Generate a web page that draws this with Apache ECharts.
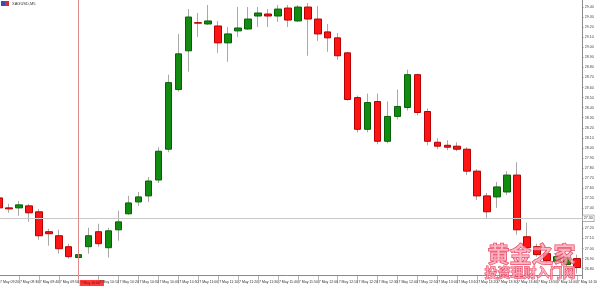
<!DOCTYPE html>
<html><head><meta charset="utf-8">
<script src="https://cdn.jsdelivr.net/npm/echarts@6/dist/echarts.min.js"></script>
<style>html,body{margin:0;padding:0;background:#fff;overflow:hidden;width:600px;height:286px;position:relative}#c{position:absolute;left:-6px;top:-3px;width:606px;height:289px}</style>
</head><body><div id="c"></div>
<script>
const categories = ["7 May 09:20","7 May 09:25","7 May 09:30","7 May 09:35","7 May 09:40","7 May 09:45","7 May 09:50","7 May 09:55","7 May 10:00","7 May 10:05","7 May 10:10","7 May 10:15","7 May 10:20","7 May 10:25","7 May 10:30","7 May 10:35","7 May 10:40","7 May 10:45","7 May 10:50","7 May 10:55","7 May 11:00","7 May 11:05","7 May 11:10","7 May 11:15","7 May 11:20","7 May 11:25","7 May 11:30","7 May 11:35","7 May 11:40","7 May 11:45","7 May 11:50","7 May 11:55","7 May 12:00","7 May 12:05","7 May 12:10","7 May 12:15","7 May 12:20","7 May 12:25","7 May 12:30","7 May 12:35","7 May 12:40","7 May 12:45","7 May 12:50","7 May 12:55","7 May 13:00","7 May 13:05","7 May 13:10","7 May 13:15","7 May 13:20","7 May 13:25","7 May 13:30","7 May 13:35","7 May 13:40","7 May 13:45","7 May 13:50","7 May 13:55","7 May 14:00","7 May 14:05","7 May 14:10"];
const opens = [27.503,27.404,27.404,27.424,27.365,27.167,27.127,27.018,26.910,27.018,27.167,27.008,27.186,27.345,27.463,27.523,27.681,27.987,28.580,28.965,29.245,29.232,29.212,29.044,29.163,29.182,29.311,29.331,29.311,29.390,29.262,29.400,29.281,29.153,29.094,28.945,28.500,28.185,28.461,28.066,28.313,28.402,28.728,28.362,28.056,28.026,28.017,27.987,27.769,27.523,27.513,27.562,27.730,27.117,27.018,26.949,26.870,26.840,26.900];
const closes = [27.404,27.394,27.434,27.355,27.127,27.147,26.998,26.919,26.939,27.127,27.048,27.176,27.265,27.453,27.513,27.671,27.967,28.649,28.935,29.301,29.240,29.262,29.044,29.133,29.192,29.281,29.341,29.311,29.380,29.271,29.400,29.281,29.133,29.094,28.916,28.481,28.185,28.451,28.066,28.313,28.412,28.728,28.352,28.066,28.017,28.007,27.987,27.769,27.523,27.365,27.612,27.730,27.186,27.008,26.939,26.880,26.919,26.910,26.811];
const lows = [27.384,27.355,27.325,27.266,27.088,27.028,26.949,26.900,26.890,26.949,27.018,26.910,27.078,27.335,27.424,27.463,27.651,27.957,28.560,28.758,29.104,29.222,28.945,28.856,29.104,29.173,29.202,29.202,29.252,29.202,29.252,28.916,29.064,28.955,28.876,28.471,28.155,28.155,28.036,28.046,28.283,28.372,28.323,28.026,27.987,27.977,27.967,27.730,27.483,27.305,27.404,27.533,27.137,26.979,26.919,26.850,26.840,26.821,26.752];
const highs = [27.523,27.444,27.473,27.444,27.394,27.196,27.186,27.048,26.969,27.206,27.246,27.206,27.375,27.523,27.562,27.710,28.007,28.728,29.133,29.380,29.341,29.420,29.262,29.202,29.400,29.400,29.400,29.380,29.420,29.420,29.420,29.440,29.410,29.232,29.143,28.955,28.520,28.540,28.540,28.461,28.580,28.777,28.738,28.392,28.096,28.076,28.056,28.007,27.789,27.552,27.661,27.769,27.858,27.256,27.048,26.988,26.959,26.939,26.939];
const yMin = 26.7, yMax = 29.5, yStep = 0.1;
const priceLine = 27.305;
const markedTime = "7 May 10:00";
const symbolTitle = "XAGUSD,M5";
const watermark1 = "黄金之家";
const watermark2 = "投资理财入门网";

const wickData = categories.map((c,i)=>[opens[i],closes[i],lows[i],highs[i]]);
const bodyData = categories.map((c,i)=>[opens[i],closes[i],Math.min(opens[i],closes[i]),Math.max(opens[i],closes[i])]);

const chart = echarts.init(document.getElementById('c'), null, {renderer:'canvas'});
const FONT = 'Liberation Sans';
const OX = 6, OY = 3; // container offset
chart.setOption({
  animation:false,
  backgroundColor:'#ffffff',
  grid:{left:0, right:12, top:0, bottom:5.76, containLabel:false},
  xAxis:{type:'category', data:categories, boundaryGap:true, offset:-3.2,
    axisLine:{show:true, lineStyle:{color:'#8a8a8a', width:1}},
    axisTick:{show:true, interval:1, alignWithLabel:true, length:8, lineStyle:{color:'#8a8a8a', width:0.6}},
    axisLabel:{interval:1, fontSize:3.5, fontFamily:FONT, color:'#333', align:'left', margin:4.5, padding:[0,0,0,1],
      formatter:function(v){ return v===markedTime ? '{hl|'+v+'}' : v; },
      rich:{hl:{backgroundColor:'#ff3b3b', color:'#7a0000', fontSize:3.5, fontFamily:FONT, padding:[1,4,1,1]}}},
    splitLine:{show:false}},
  yAxis:{type:'value', position:'right', min:yMin, max:yMax, interval:yStep,
    axisLine:{show:true, lineStyle:{color:'#8a8a8a', width:1}},
    axisTick:{show:true, length:2, lineStyle:{color:'#8a8a8a', width:0.6}},
    axisLabel:{fontSize:3.6, fontFamily:FONT, color:'#444', margin:3, showMinLabel:false, showMaxLabel:false,
      formatter:function(v){return v.toFixed(2);}},
    splitLine:{show:false}},
  series:[
    {type:'candlestick', name:'wick', data:wickData, barWidth:1,
      itemStyle:{color:'#a8a8a8', color0:'#a8a8a8', borderColor:'#a8a8a8', borderColor0:'#a8a8a8', borderWidth:1},
      z:2,
      markLine:{silent:true, symbol:'none', animation:false,
        data:[
          {yAxis:priceLine, lineStyle:{color:'#c8c8c8', width:1, type:'solid'},
            label:{show:true, position:'end', distance:1, formatter:function(p){return p.value.toFixed(2);},
              fontSize:3.6, fontFamily:FONT, color:'#333', backgroundColor:'#ffffff', borderColor:'#888', borderWidth:0.6, padding:[1,1]}},
          {xAxis:markedTime, lineStyle:{color:'#e08a8a', width:1, type:'solid'}, label:{show:false}}
        ]}},
    {type:'candlestick', name:'body', data:bodyData, barWidth:7,
      itemStyle:{color:'#118c11', color0:'#ff1414', borderColor:'#066006', borderColor0:'#b40000', borderWidth:1},
      z:3}
  ],
  graphic:[
    {type:'rect', left:1+OX, top:1+OY, shape:{width:4, height:5}, style:{fill:'#3050c0'}, z:10},
    {type:'rect', left:5+OX, top:1+OY, shape:{width:4, height:5}, style:{fill:'#d03030'}, z:10},
    {type:'text', left:12+OX, top:1.5+OY, style:{text:symbolTitle, font:'4px '+FONT, fill:'#333'}, z:10},
    {type:'text', left:487+OX, top:242+OY, style:{text:watermark1, font:'bold 22px "Noto Sans CJK SC"', fill:'rgba(255,160,180,0.75)', stroke:'#e2405a', lineWidth:1}, z:20},
    {type:'text', left:484+OX, top:265+OY, style:{text:watermark2, font:'bold 13px "Noto Sans CJK SC"', fill:'rgba(255,160,180,0.75)', stroke:'#e2405a', lineWidth:0.8}, z:20}
  ]
});
</script></body></html>
